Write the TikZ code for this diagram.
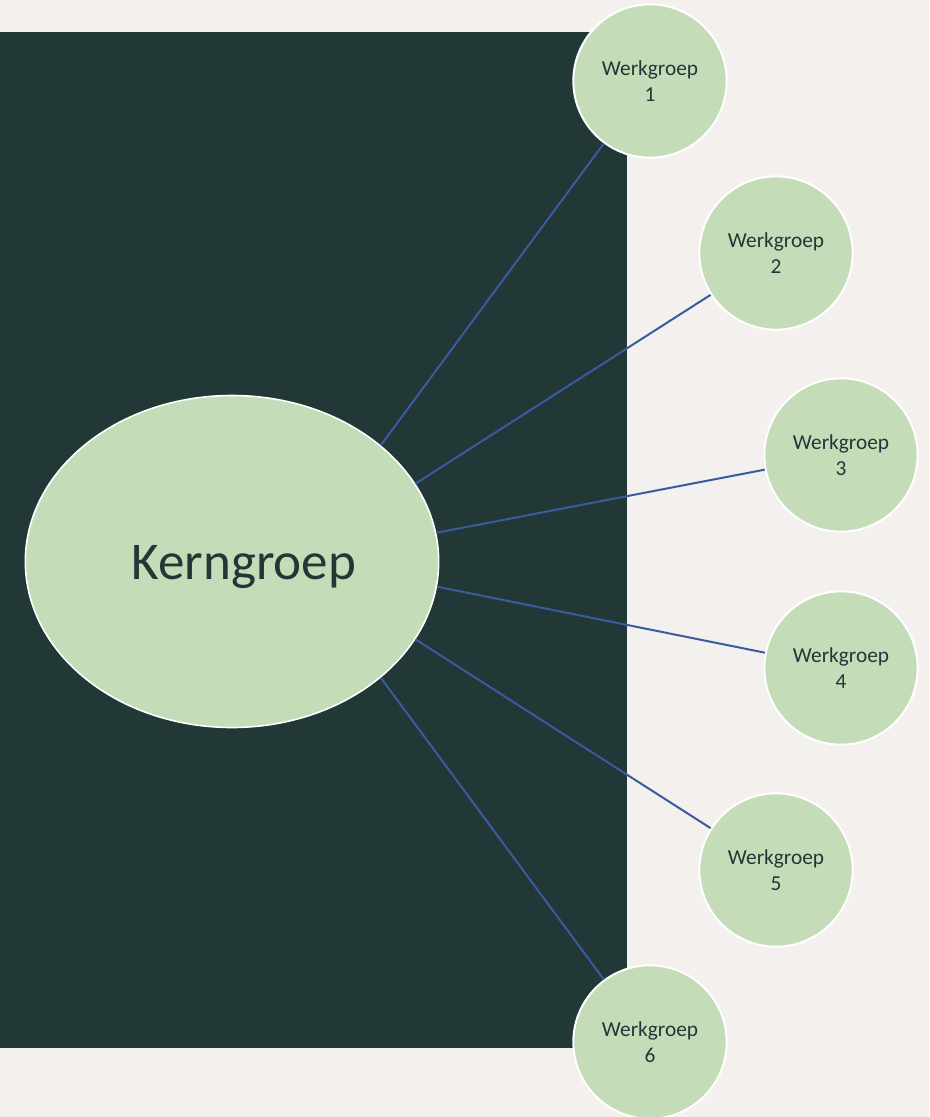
\documentclass[tikz,border=0pt]{standalone}
\usepackage{fontspec}
\setmainfont{Carlito}
\usetikzlibrary{shapes.geometric}
\usetikzlibrary{positioning}

\tikzset{
  werk/.style={circle, draw=white, line width=1.5pt, fill=G, minimum size=115pt,
    inner sep=0pt, align=center, text=D, font=\fontsize{16}{19}\selectfont},
  kern/.style={ellipse, draw=white, line width=1.2pt, fill=G, minimum width=310pt,
    minimum height=249pt, inner sep=0pt, text=D, font=\fontsize{39.8}{46}\selectfont},
  lijn/.style={draw=L, line width=1.5pt}
}

\begin{document}
\begin{tikzpicture}[x=0.75pt,y=-0.75pt]
      \definecolor{BG}{HTML}{F3F0ED}
      \definecolor{D}{HTML}{213837}
      \definecolor{G}{HTML}{C5DCB9}
      \definecolor{L}{HTML}{3A5BA0}
      \fill[BG] (0,0) rectangle (929,1117);
      \useasboundingbox (0,0) rectangle (929,1117);
      \fill[D] (0,32) rectangle (627,1048);
      \node[kern] (kg) at (232,561.5)
        {\raisebox{-13.5pt}[0pt][0pt]{\makebox[0pt]{\hspace*{18pt}Kerngroep}}};
      \node[werk] (wg1) at (650,81) {Werkgroep\\1};
      \node[werk] (wg2) at (776,253) {Werkgroep\\2};
      \node[werk] (wg3) at (841,455) {Werkgroep\\3};
      \node[werk] (wg4) at (841,668) {Werkgroep\\4};
      \node[werk] (wg5) at (776,870) {Werkgroep\\5};
      \node[werk] (wg6) at (650,1042) {Werkgroep\\6};
      \draw[lijn] (kg.38) -- (wg1);
      \draw[lijn] (kg.23.4) -- (wg2);
      \draw[lijn] (kg.8) -- (wg3);
      \draw[lijn] (kg.-7.7) -- (wg4);
      \draw[lijn] (kg.-23.4) -- (wg5);
      \draw[lijn] (kg.-38) -- (wg6);
    \end{tikzpicture}
\end{document}
